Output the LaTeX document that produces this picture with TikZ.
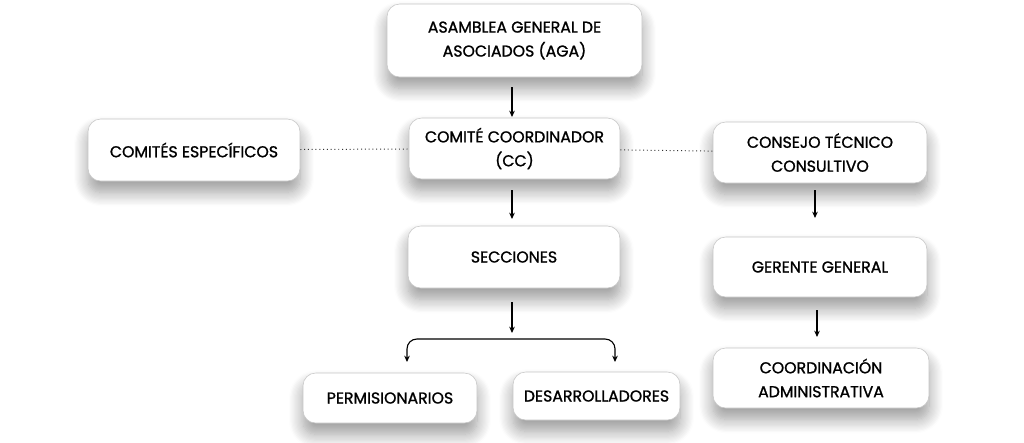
\documentclass[tikz,border=0pt]{standalone}
\usepackage{fontspec}
\newfontfamily\boxfont{Poppins}[FakeBold=1.2]
\usetikzlibrary{arrows.meta,shadows.blur}

\tikzset{
  box/.style={draw=gray!45, line width=0.4pt, fill=white, rounded corners=9pt,
    align=center, inner sep=0pt,
    font=\boxfont\fontsize{11.2}{17}\selectfont,
    blur shadow={shadow xshift=0pt, shadow yshift=-8pt, shadow blur radius=10pt,
      shadow blur steps=12, shadow opacity=40}},
  link/.style={-{Stealth[length=4.5pt,width=4pt]}, line width=0.8pt},
  dots/.style={dotted, line width=0.7pt, gray!40!black},
}

\begin{document}
\begin{tikzpicture}[x=0.025cm, y=-0.025cm]
    \useasboundingbox (0,0) rectangle (1024,442);

    % boxes
    \node[box, minimum width=255*0.025cm, minimum height=73*0.025cm] (aga) at (514.5,40.5)
      {ASAMBLEA GENERAL DE\\ASOCIADOS (AGA)};
    \node[box, minimum width=211*0.025cm, minimum height=61*0.025cm] (cc) at (514.5,148.5)
      {COMITÉ COORDINADOR\\(CC)};
    \node[box, minimum width=212*0.025cm, minimum height=62*0.025cm] (ce) at (194,150)
      {COMITÉS ESPECÍFICOS};
    \node[box, minimum width=214*0.025cm, minimum height=61*0.025cm] (ctc) at (820,152.5)
      {CONSEJO TÉCNICO\\CONSULTIVO};
    \node[box, minimum width=212*0.025cm, minimum height=62*0.025cm] (sec) at (514,257)
      {SECCIONES};
    \node[box, minimum width=214*0.025cm, minimum height=60*0.025cm] (gg) at (820,267)
      {GERENTE GENERAL};
    \node[box, minimum width=174*0.025cm, minimum height=50*0.025cm] (perm) at (390,398)
      {PERMISIONARIOS};
    \node[box, minimum width=167*0.025cm, minimum height=48*0.025cm] (des) at (596.5,396)
      {DESARROLLADORES};
    \node[box, minimum width=216*0.025cm, minimum height=60*0.025cm] (coad) at (821,378)
      {COORDINACIÓN\\ADMINISTRATIVA};

    % arrow ends
    \coordinate (a1) at (512,87);  \coordinate (a2) at (512,117);
    \coordinate (b1) at (512,190); \coordinate (b2) at (512,219);
    \coordinate (c1) at (512,302); \coordinate (c2) at (512,333);
    \coordinate (bt) at (512,339);
    \coordinate (bl) at (407,362); \coordinate (br) at (615,362);
    \coordinate (d1) at (815,190); \coordinate (d2) at (815,218);
    \coordinate (e1) at (817,310); \coordinate (e2) at (817,337);

    \draw[link] (a1) -- (a2);
    \draw[link] (b1) -- (b2);
    \draw[link] (c1) -- (c2);
    \draw[link, {Stealth[length=4.5pt,width=4pt]}-{Stealth[length=4.5pt,width=4pt]}, rounded corners=7pt]
      (bl) -- (bl |- bt) -- (br |- bt) -- (br);
    \draw[link] (d1) -- (d2);
    \draw[link] (e1) -- (e2);

    % dotted links
    \draw[dots] (ce) -- (cc);
    \draw[dots] (cc) -- (ctc);
\end{tikzpicture}
\end{document}
